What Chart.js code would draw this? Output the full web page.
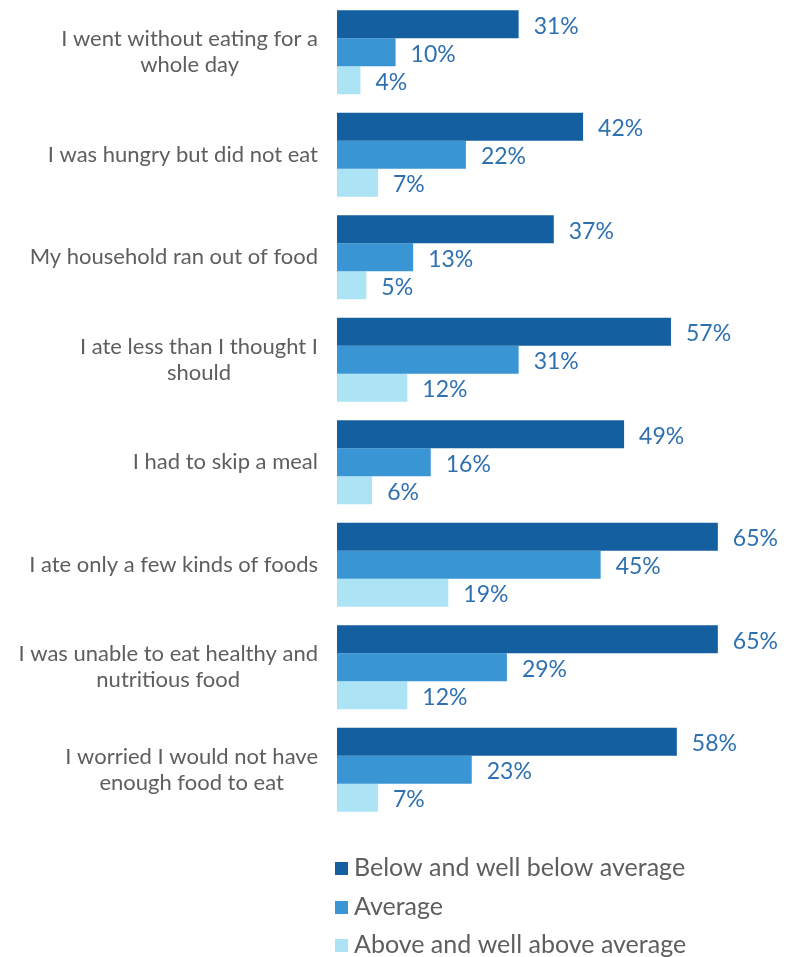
<!DOCTYPE html>
<html>
<head>
<meta charset="utf-8">
<title>Food insecurity by income</title>
<script src="https://cdn.jsdelivr.net/npm/chart.js@4/dist/chart.umd.min.js"></script>
<style>
    html, body { margin: 0; padding: 0; background: #fff; }
    #wrap { width: 794px; height: 957px; }
</style>
</head>
<body>
<div id="wrap"><canvas id="foodChart" width="794" height="957"></canvas></div>
<script>
// Categories and series
const categories = [
    ['I went without eating for a', 'whole day'],
    ['I was hungry but did not eat'],
    ['My household ran out of food'],
    ['I ate less than I thought I', 'should'],
    ['I had to skip a meal'],
    ['I ate only a few kinds of foods'],
    ['I was unable to eat healthy and', 'nutritious food'],
    ['I worried I would not have', 'enough food to eat']
];
const seriesNames = ['Below and well below average', 'Average', 'Above and well above average'];
const belowAverage = [31, 42, 37, 57, 49, 65, 65, 58];
const average = [10, 22, 13, 31, 16, 45, 29, 23];
const aboveAverage = [4, 7, 5, 12, 6, 19, 12, 7];
const colors = ['#135f9f', '#3a95d5', '#ade4f5'];

const FONT = 'Lato, "Noto Sans", sans-serif';
const TEXT_GRAY = '#5e5e5e';
const LABEL_BLUE = '#2f70b0';

// Category labels: block right-aligned to the axis, lines centred in the block
const categoryLabels = {
    id: 'categoryLabels',
    afterDraw(chart) {
        const ctx = chart.ctx;
        const y = chart.scales.y;
        ctx.save();
        ctx.font = '22px ' + FONT;
        ctx.fillStyle = TEXT_GRAY;
        ctx.textAlign = 'center';
        ctx.textBaseline = 'middle';
        const lineH = 26;
        const right = chart.chartArea.left - 19;
        categories.forEach(function(lines, i) {
            const cy = y.getPixelForValue(i);
            const w = Math.max.apply(null, lines.map(l => ctx.measureText(l).width));
            const cx = right - w / 2;
            const top = cy - (lines.length - 1) * lineH / 2;
            lines.forEach(function(l, k) {
                ctx.fillText(l, cx, top + k * lineH);
            });
        });
        ctx.restore();
    }
};

// Percentage labels after each bar
const valueLabels = {
    id: 'valueLabels',
    afterDatasetsDraw(chart) {
        const ctx = chart.ctx;
        ctx.save();
        ctx.font = '23px ' + FONT;
        ctx.fillStyle = LABEL_BLUE;
        ctx.textAlign = 'left';
        ctx.textBaseline = 'middle';
        chart.data.datasets.forEach(function(ds, di) {
            chart.getDatasetMeta(di).data.forEach(function(bar, i) {
                ctx.fillText(ds.data[i] + '%', bar.x + 15, bar.y + 2);
            });
        });
        ctx.restore();
    }
};

// Vertical legend under the plot
const stackedLegend = {
    id: 'stackedLegend',
    afterDraw(chart) {
        const ctx = chart.ctx;
        const left = chart.chartArea.left - 2;
        const rows = [868, 907, 945];
        ctx.save();
        ctx.font = '25px ' + FONT;
        ctx.textBaseline = 'middle';
        ctx.textAlign = 'left';
        chart.data.datasets.forEach(function(ds, i) {
            ctx.fillStyle = ds.backgroundColor;
            ctx.fillRect(left, rows[i] - 6, 13, 13);
            ctx.fillStyle = TEXT_GRAY;
            ctx.fillText(ds.label, left + 19, rows[i]);
        });
        ctx.restore();
    }
};

new Chart(document.getElementById('foodChart'), {
    type: 'bar',
    data: {
        labels: categories,
        datasets: [
            { label: seriesNames[0], data: belowAverage, backgroundColor: colors[0] },
            { label: seriesNames[1], data: average, backgroundColor: colors[1] },
            { label: seriesNames[2], data: aboveAverage, backgroundColor: colors[2] }
        ]
    },
    options: {
        indexAxis: 'y',
        responsive: false,
        animation: false,
        categoryPercentage: 0.82,
        barPercentage: 1.0,
        layout: { padding: { top: 1, bottom: 136, right: 0, left: 0 } },
        plugins: {
            legend: { display: false },
            tooltip: { enabled: false }
        },
        scales: {
            x: {
                display: false,
                min: 0,
                max: 78
            },
            y: {
                grid: { display: false },
                border: { display: false },
                ticks: { display: false },
                afterFit: function(scale) { scale.width = 337; }
            }
        }
    },
    plugins: [categoryLabels, valueLabels, stackedLegend]
});
</script>
</body>
</html>
